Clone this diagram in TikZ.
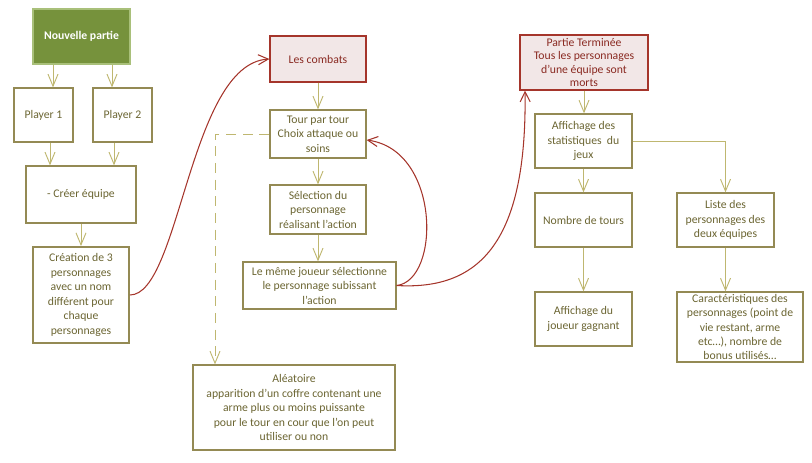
\documentclass[tikz,border=0pt]{standalone}
\usepackage{fontspec}
\setmainfont{Carlito}
\usetikzlibrary{arrows.meta}
\definecolor{olivebord}{HTML}{948A54}
\definecolor{olivetrait}{HTML}{BFB770}
\definecolor{olivetexte}{HTML}{6B6532}
\definecolor{vertfond}{HTML}{76923C}
\definecolor{vertbord}{HTML}{A9C07A}
\definecolor{rosefond}{HTML}{F2E7E7}
\definecolor{rougebord}{HTML}{A5352B}
\definecolor{rougetexte}{HTML}{8A2A22}
\tikzset{
  boite/.style={draw=olivebord, line width=1.1pt, text=olivetexte, align=center,
    inner xsep=1pt, inner ysep=0pt, font=\fontsize{10}{12.4}\selectfont},
  debut/.style={boite, fill=vertfond, draw=vertbord, text=white,
    font=\fontsize{10}{12.4}\selectfont\bfseries},
  combat/.style={boite, fill=rosefond, draw=rougebord, text=rougetexte},
  wh/.style 2 args={minimum width=#1*0.03cm, minimum height=#2*0.03cm},
  fleche/.style={draw=olivetrait, line width=0.8pt, -{Straight Barb[length=3.6mm,width=3mm]}},
  retour/.style={draw=rougebord, line width=0.9pt, -{Straight Barb[length=3mm,width=3mm]}},
}
\begin{document}
\begin{tikzpicture}[x=0.03cm, y=-0.03cm]
  \useasboundingbox (0,0) rectangle (812,462);
  % creation des equipes
  \node[debut, wh={97}{55}] (nouv) at (81.5,36.5) {Nouvelle partie};
  \node[boite, wh={59}{54}] (p1) at (43.5,115) {Player 1};
  \node[boite, wh={59}{54}] (p2) at (122.5,115) {Player 2};
  \node[boite, wh={110}{57}] (equipe) at (81,194.5) {- Créer équipe};
  \node[boite, wh={96}{96}, line width=1.6pt] (creation) at (81,295)
    {Création de 3\\personnages\\avec un nom\\différent pour\\chaque\\personnages};
  % combats
  \node[combat, wh={96}{46}] (combats) at (318,59) {Les combats};
  \node[boite, wh={96}{48}] (tour) at (318,134) {Tour par tour\\Choix attaque ou\\soins};
  \node[boite, wh={96}{49}] (selection) at (318,209.5) {Sélection du\\personnage\\réalisant l’action};
  \node[boite, wh={153}{47}] (meme) at (319.5,285.5)
    {Le même joueur sélectionne\\le personnage subissant\\l’action};
  \node[boite, wh={202}{85}] (alea) at (294,407.5)
    {Aléatoire\\apparition d’un coffre contenant une\\arme plus ou moins puissante\\pour le tour en cour que l’on peut\\utiliser ou non};
  % fin de partie
  \node[combat, wh={128}{55}, font=\fontsize{10}{11.6}\selectfont] (fin) at (584,62.5)
    {Partie Terminée\\Tous les personnages\\d’une équipe sont\\morts};
  \node[boite, wh={97}{54}] (stats) at (583.5,141) {Affichage des\\statistiques~ du\\jeux};
  \node[boite, wh={97}{54}] (tours) at (583.5,220) {Nombre de tours};
  \node[boite, wh={97}{54}] (gagnant) at (583.5,319) {Affichage du\\joueur gagnant};
  \node[boite, wh={97}{54}] (liste) at (725.5,220) {Liste des\\personnages des\\deux équipes};
  \node[boite, wh={126}{70}, font=\fontsize{10}{12}\selectfont] (carac) at (740,327)
    {Caractéristiques des\\personnages (point de\\vie restant, arme\\etc…), nombre de\\bonus utilisés…};

  \draw[fleche] ([xshift=-0.855cm]nouv.south) -- ([xshift=-0.855cm]nouv.south |- p1.north);
  \draw[fleche] ([xshift=0.915cm]nouv.south) -- ([xshift=0.915cm]nouv.south |- p2.north);
  \draw[fleche] ([xshift=0.195cm]p1.south) -- ([xshift=0.195cm]p1.south |- equipe.north);
  \draw[fleche] ([xshift=-0.255cm]p2.south) -- ([xshift=-0.255cm]p2.south |- equipe.north);
  \draw[fleche] (equipe) -- (creation);
  \draw[fleche] (combats) -- (tour);
  \draw[fleche] (tour) -- (selection);
  \draw[fleche] (selection.south) -- (selection.south |- meme.north);
  \draw[fleche, dash pattern=on 3mm off 2mm] (tour.west) -| ([xshift=-2.37cm]alea.north);
  \draw[fleche] (fin.south) -- (fin.south |- stats.north);
  \draw[fleche] (stats) -- (tours);
  \draw[fleche] (tours) -- (gagnant);
  \draw[fleche] (stats.east) -| (liste.north);
  \draw[fleche] (liste.south) -- (liste.south |- carac.north);

  \draw[retour] (creation.east) .. controls +(50,0) and +(-80,5) .. (combats.west);
  \draw[retour] (meme.east) .. controls +(44,-5) and +(74,10) .. ([yshift=-0.18cm]tour.east);
  \draw[retour] (meme.east) .. controls +(84,5) and +(2,150) .. ([xshift=0.17cm]fin.south west);
\end{tikzpicture}
\end{document}
